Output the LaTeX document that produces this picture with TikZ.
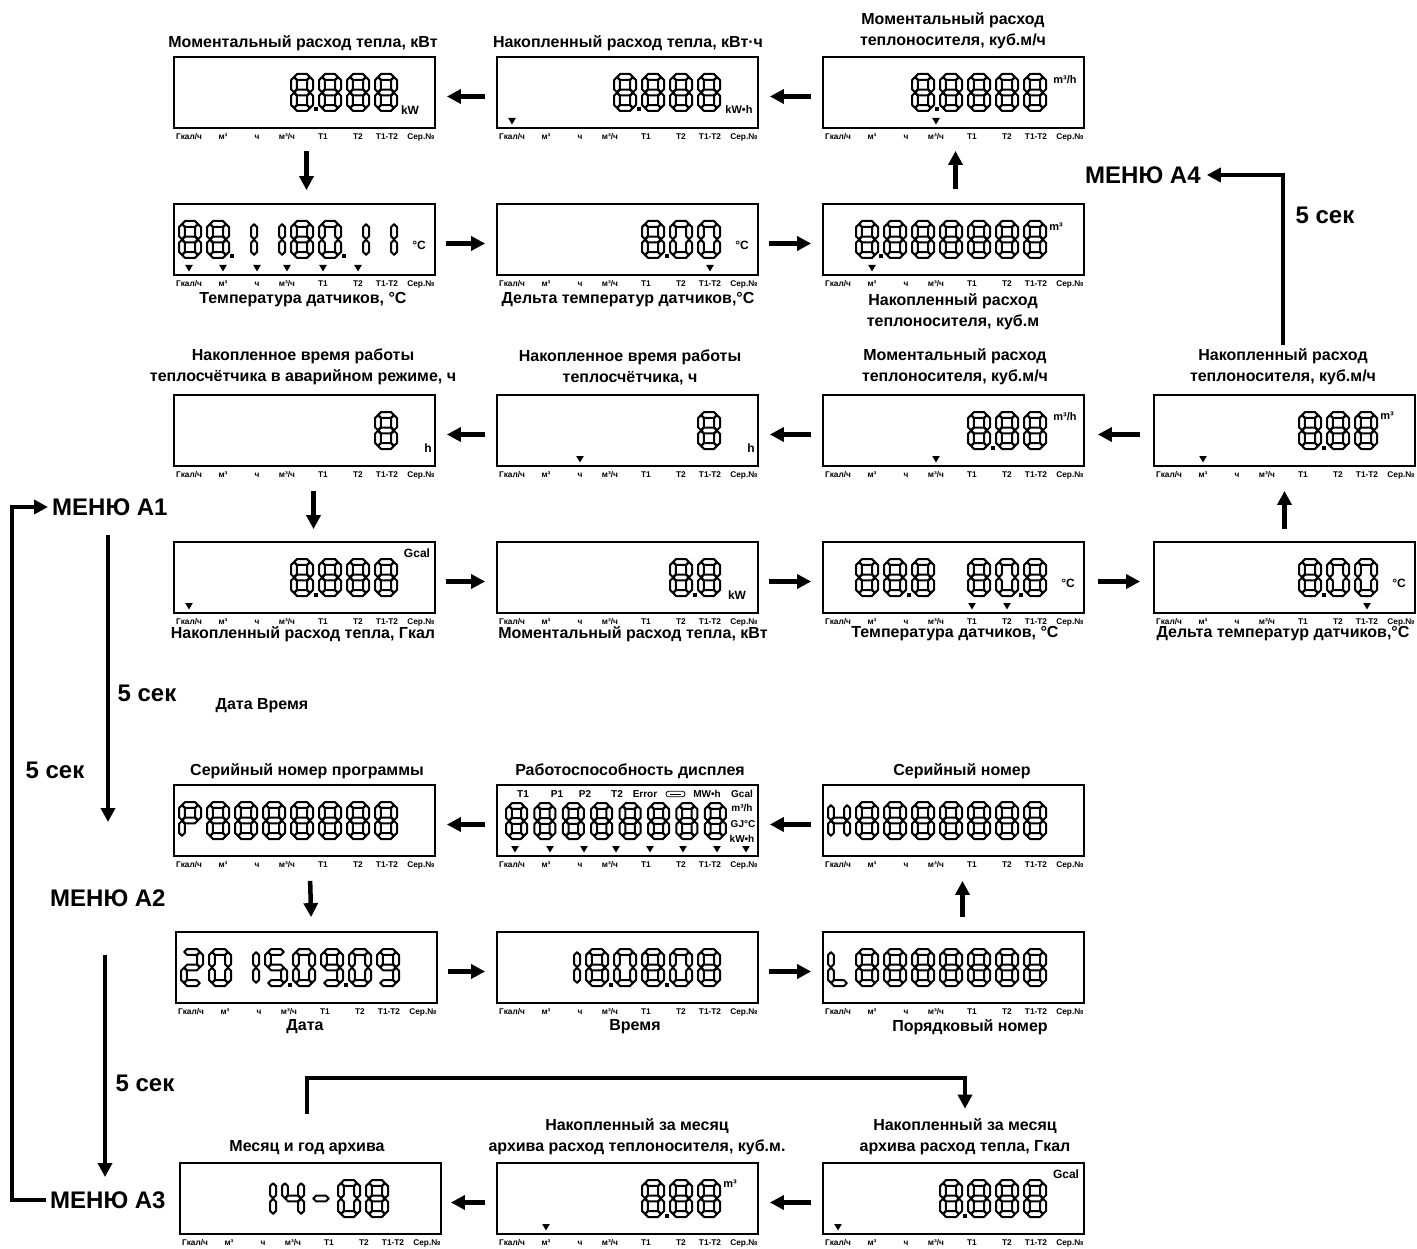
\documentclass[tikz,border=0pt]{standalone}
\usepackage{fontspec}
\setmainfont{Liberation Sans}
\usetikzlibrary{arrows.meta}

\def\sgW{22}\def\sgH{37}\def\sgh{2.9}\def\sgg{0.3}\def\sgOff{5}\def\sgP{28}\def\sgTop{17}

\tikzset{
  segm/.style={draw, line width=2.0pt, line join=round},
  lcd/.style={draw, line width=1.8pt, minimum width=261pt, minimum height=71pt, inner sep=0pt},
  lbl/.style={font=\fontsize{8.3}{8}\selectfont\bfseries, inner sep=0pt},
  capt/.style={font=\fontsize{16}{21}\selectfont\bfseries, align=center, inner sep=1pt},
  unittxt/.style={font=\fontsize{12}{12}\selectfont\bfseries, inner sep=0pt},
  unitsm/.style={font=\fontsize{11}{11}\selectfont\bfseries, inner sep=0pt},
  unitxs/.style={font=\fontsize{10}{10}\selectfont\bfseries, inner sep=0pt},
  menutxt/.style={font=\fontsize{24}{24}\selectfont\bfseries, inner sep=0pt, anchor=west},
  sectxt/.style={font=\fontsize{24}{24}\selectfont\bfseries, inner sep=0pt},
  arr/.style={line width=4.5pt, -{Triangle[length=14pt,width=14pt]}},
}

\newcommand\sgHor[3]{\draw[segm] (#1+\sgg,#3) -- (#1+\sgg+\sgh,#3-\sgh) -- (#2-\sgg-\sgh,#3-\sgh) -- (#2-\sgg,#3) -- (#2-\sgg-\sgh,#3+\sgh) -- (#1+\sgg+\sgh,#3+\sgh) -- cycle;}
\newcommand\sgVer[3]{\draw[segm] (#1,#2+\sgg) -- (#1+\sgh,#2+\sgg+\sgh) -- (#1+\sgh,#3-\sgg-\sgh) -- (#1,#3-\sgg) -- (#1-\sgh,#3-\sgg-\sgh) -- (#1-\sgh,#2+\sgg+\sgh) -- cycle;}
\def\sgsega{\sgHor{\sgXl}{\sgXr}{\sgYt}}
\def\sgsegb{\sgVer{\sgXr}{\sgYt}{\sgYm}}
\def\sgsegc{\sgVer{\sgXr}{\sgYm}{\sgYb}}
\def\sgsegd{\sgHor{\sgXl}{\sgXr}{\sgYb}}
\def\sgsege{\sgVer{\sgXl}{\sgYm}{\sgYb}}
\def\sgsegf{\sgVer{\sgXl}{\sgYt}{\sgYm}}
\def\sgsegg{\sgHor{\sgXl}{\sgXr}{\sgYm}}
\expandafter\def\csname sgmap8\endcsname{a,b,c,d,e,f,g}
\expandafter\def\csname sgmap0\endcsname{a,b,c,d,e,f}
\expandafter\def\csname sgmap1\endcsname{b,c}
\expandafter\def\csname sgmap2\endcsname{a,b,g,e,d}
\expandafter\def\csname sgmap4\endcsname{f,g,b,c}
\expandafter\def\csname sgmap5\endcsname{a,f,g,c,d}
\expandafter\def\csname sgmap9\endcsname{a,b,c,d,f,g}
\expandafter\def\csname sgmap-\endcsname{g}
\expandafter\def\csname sgmapP\endcsname{a,b,e,f,g}
\expandafter\def\csname sgmapH\endcsname{b,c,e,f,g}
\expandafter\def\csname sgmapL\endcsname{d,e,f}

\newcommand\sgDigit[4]{%
  \pgfmathsetmacro\sgX{#1+\sgOff+#3*\sgP}%
  \pgfmathsetmacro\sgY{#2+\sgTop}%
  \pgfmathsetmacro\sgXl{\sgX+\sgh}%
  \pgfmathsetmacro\sgXr{\sgX+\sgW-\sgh}%
  \pgfmathsetmacro\sgYt{\sgY+\sgh}%
  \pgfmathsetmacro\sgYm{\sgY+\sgH/2}%
  \pgfmathsetmacro\sgYb{\sgY+\sgH-\sgh}%
  \edef\sgList{\csname sgmap#4\endcsname}%
  \foreach \sgs in \sgList {\csname sgseg\sgs\endcsname}%
}
\newcommand\sgRow[3]{\foreach \sgp/\sgc in {#3} {\sgDigit{#1}{#2}{\sgp}{\sgc}}}
\newcommand\sgDot[3]{%
  \pgfmathsetmacro\sgDx{#1+\sgOff+#3*\sgP+\sgW+1.0}%
  \pgfmathsetmacro\sgDy{#2+\sgTop+\sgH+0.5}%
  \fill (\sgDx,\sgDy) rectangle (\sgDx+4,\sgDy-4);}
\newcommand\sgTri[3]{\fill (#1+#3-3.8,#2+61) -- (#1+#3+3.8,#2+61) -- (#1+#3,#2+67.5) -- cycle;}
\newcommand\sgBox[3]{%
  \node[lcd] (#1) at (#2+130.5,#3+35.5) {};
  \node[lbl] (#1l0) at (#2+15,#3+80) {Гкал/ч};
  \node[lbl] (#1l1) at (#2+49,#3+80) {м³};
  \node[lbl] (#1l2) at (#2+83,#3+80) {ч};
  \node[lbl] (#1l3) at (#2+113,#3+80) {м³/ч};
  \node[lbl] (#1l4) at (#2+149,#3+80) {T1};
  \node[lbl] (#1l5) at (#2+184,#3+80) {T2};
  \node[lbl] (#1l6) at (#2+213,#3+80) {T1-T2};
  \node[lbl] (#1l7) at (#2+247,#3+80) {Сер.№};
}

\begin{document}
\begin{tikzpicture}[x=1pt,y=-1pt]
\useasboundingbox (0,0) rectangle (1417,1249);

% ---------- Row 1 ----------
\sgBox{r1c1}{174}{57}
\sgRow{174}{57}{4/8,5/8,6/8,7/8}\sgDot{174}{57}{4}
\node[unittxt] (r1c1u) at (174+236,57+53) {kW};
\node[capt] (c11) at (303,43) {Моментальный расход тепла, кВт};

\sgBox{r1c2}{497}{57}
\sgRow{497}{57}{4/8,5/8,6/8,7/8}\sgDot{497}{57}{4}
\node[unitsm] (r1c2u) at (497+242,57+53) {kW•h};
\sgTri{497}{57}{15}
\node[capt] (c12) at (628,43) {Накопленный расход тепла, кВт·ч};

\sgBox{r1c3}{823}{57}
\sgRow{823}{57}{3/8,4/8,5/8,6/8,7/8}\sgDot{823}{57}{3}
\node[unitsm] (r1c3u) at (823+242,57+23) {m³/h};
\sgTri{823}{57}{113}
\node[capt] (c13) at (953,31) {Моментальный расход\\теплоносителя, куб.м/ч};

% ---------- Row 2 ----------
\sgBox{r2c1}{174}{204}
\sgRow{174}{204}{0/8,1/8,2/1,3/1,4/8,5/0,6/1,7/1}\sgDot{174}{204}{1}\sgDot{174}{204}{5}
\node[unittxt] (r2c1u) at (174+245,204+41) {°C};
\foreach \tx in {15,49,83,113,149,184} {\sgTri{174}{204}{\tx}}
\node[capt] (c21) at (303,300) {Температура датчиков, °С};

\sgBox{r2c2}{497}{204}
\sgRow{497}{204}{5/8,6/0,7/0}\sgDot{497}{204}{5}
\node[unittxt] (r2c2u) at (497+245,204+41) {°C};
\sgTri{497}{204}{213}
\node[capt] (c22) at (628,300) {Дельта температур датчиков,°С};

\sgBox{r2c3}{823}{204}
\sgRow{823}{204}{1/8,2/8,3/8,4/8,5/8,6/8,7/8}\sgDot{823}{204}{1}
\node[unitsm] (r2c3u) at (823+233,204+23) {m³};
\sgTri{823}{204}{49}
\node[capt] (c23) at (953,312) {Накопленный расход\\теплоносителя, куб.м};

% ---------- Row 3 ----------
\sgBox{r3c1}{174}{395}
\sgRow{174}{395}{7/8}
\node[unittxt] (r3c1u) at (174+254,395+53) {h};
\node[capt] (c31) at (303,367) {Накопленное время работы\\теплосчётчика в аварийном режиме, ч};

\sgBox{r3c2}{497}{395}
\sgRow{497}{395}{7/8}
\node[unittxt] (r3c2u) at (497+254,395+53) {h};
\sgTri{497}{395}{83}
\node[capt] (c32) at (630,367) {Накопленное время работы\\теплосчётчика, ч};

\sgBox{r3c3}{823}{395}
\sgRow{823}{395}{5/8,6/8,7/8}\sgDot{823}{395}{5}
\node[unitsm] (r3c3u) at (823+242,395+22) {m³/h};
\sgTri{823}{395}{113}
\node[capt] (c33) at (955,367) {Моментальный расход\\теплоносителя, куб.м/ч};

\sgBox{r3c4}{1154}{395}
\sgRow{1154}{395}{5/8,6/8,7/8}\sgDot{1154}{395}{5}
\node[unitsm] (r3c4u) at (1154+233,395+21) {m³};
\sgTri{1154}{395}{49}
\node[capt] (c34) at (1283,367) {Накопленный расход\\теплоносителя, куб.м/ч};

% ---------- Row 4 ----------
\sgBox{r4c1}{174}{542}
\sgRow{174}{542}{4/8,5/8,6/8,7/8}\sgDot{174}{542}{4}
\node[unittxt] (r4c1u) at (174+243,542+11) {Gcal};
\sgTri{174}{542}{15}
\node[capt] (c41) at (303,634) {Накопленный расход тепла, Гкал};

\sgBox{r4c2}{497}{542}
\sgRow{497}{542}{6/8,7/8}\sgDot{497}{542}{6}
\node[unittxt] (r4c2u) at (497+240,542+53) {kW};
\node[capt] (c42) at (633,634) {Моментальный расход тепла, кВт};

\sgBox{r4c3}{823}{542}
\sgRow{823}{542}{1/8,2/8,3/8,5/8,6/0,7/8}\sgDot{823}{542}{2}\sgDot{823}{542}{6}
\node[unittxt] (r4c3u) at (823+245,542+41) {°C};
\sgTri{823}{542}{149}\sgTri{823}{542}{184}
\node[capt] (c43) at (955,634) {Температура датчиков, °С};

\sgBox{r4c4}{1154}{542}
\sgRow{1154}{542}{5/8,6/0,7/0}\sgDot{1154}{542}{5}
\node[unittxt] (r4c4u) at (1154+245,542+41) {°C};
\sgTri{1154}{542}{213}
\node[capt] (c44) at (1283,634) {Дельта температур датчиков,°С};

\node[capt] (dt) at (262,706) {Дата Время};

% ---------- Row 5 ----------
\sgBox{r5c1}{174}{785}
\sgRow{174}{785}{0/P,1/8,2/8,3/8,4/8,5/8,6/8,7/8}
\node[capt] (c51) at (307,771) {Серийный номер программы};

\sgBox{r5c2}{497}{785}
\begin{scope}
\def\sgOff{9}\def\sgP{28.4}\def\sgTop{18}\def\sgW{21}\def\sgH{36}
\sgRow{497}{785}{0/8,1/8,2/8,3/8,4/8,5/8,6/8,7/8}
\end{scope}
\foreach \tx in {18,53,87,119,153,186,220,249} {\fill (497+\tx-3.8,785+61) -- (497+\tx+3.8,785+61) -- (497+\tx,785+67.5) -- cycle;}
\node[unitxs] (r5t1) at (497+26,785+9) {T1};
\node[unitxs] (r5t2) at (497+60,785+9) {P1};
\node[unitxs] (r5t3) at (497+88,785+9) {P2};
\node[unitxs] (r5t4) at (497+120,785+9) {T2};
\node[unitxs] (r5t5) at (497+148,785+9) {Error};
\draw[line width=0.8pt, rounded corners=2.5pt] (497+169,785+6.3) rectangle (497+188,785+11.7);
\draw[line width=0.8pt] (497+173,785+9) -- (497+184,785+9);
\node[unitxs] (r5t6) at (497+210,785+9) {MW•h};
\node[unitxs] (r5t7) at (497+245,785+9) {Gcal};
\node[unitxs] (r5t8) at (497+245,785+23) {m³/h};
\node[unitxs] (r5t9) at (497+246,785+39) {GJ°C};
\node[unitxs] (r5t10) at (497+245,785+54) {kW•h};
\node[capt] (c52) at (630,771) {Работоспособность дисплея};

\sgBox{r5c3}{823}{785}
\sgRow{823}{785}{0/H,1/8,2/8,3/8,4/8,5/8,6/8,7/8}
\node[capt] (c53) at (962,771) {Серийный номер};

% ---------- Row 6 ----------
\sgBox{r6c1}{176}{932}
\sgRow{176}{932}{0/2,1/0,2/1,3/5,4/0,5/9,6/0,7/9}\sgDot{176}{932}{3}\sgDot{176}{932}{5}
\node[capt] (c61) at (305,1027) {Дата};

\sgBox{r6c2}{497}{932}
\sgRow{497}{932}{2/1,3/8,4/0,5/8,6/0,7/8}\sgDot{497}{932}{3}\sgDot{497}{932}{5}
\node[capt] (c62) at (635,1027) {Время};

\sgBox{r6c3}{823}{932}
\sgRow{823}{932}{0/L,1/8,2/8,3/8,4/8,5/8,6/8,7/8}
\node[capt] (c63) at (970,1027) {Порядковый номер};

% ---------- Row 7 ----------
\sgBox{r7c1}{180}{1163}
\sgRow{165}{1163}{3/1,4/4,5/-,6/0,7/8}
\node[capt] (c71) at (307,1148) {Месяц и год архива};

\sgBox{r7c2}{497}{1163}
\sgRow{497}{1163}{5/8,6/8,7/8}\sgDot{497}{1163}{5}
\node[unitsm] (r7c2u) at (497+233,1163+21) {m³};
\sgTri{497}{1163}{49}
\node[capt] (c72) at (637,1137) {Накопленный за месяц\\архива расход теплоносителя, куб.м.};

\sgBox{r7c3}{823}{1163}
\sgRow{823}{1163}{4/8,5/8,6/8,7/8}\sgDot{823}{1163}{4}
\node[unittxt] (r7c3u) at (823+243,1163+11) {Gcal};
\sgTri{823}{1163}{15}
\node[capt] (c73) at (965,1137) {Накопленный за месяц\\архива расход тепла, Гкал};

% ---------- Menus ----------
\node[menutxt] (m1) at (52,507) {МЕНЮ А1};
\node[menutxt] (m2) at (50,898) {МЕНЮ А2};
\node[menutxt] (m3) at (50,1200) {МЕНЮ А3};
\node[menutxt] (m4) at (1085,175) {МЕНЮ А4};
\node[sectxt] (s1) at (147,693) {5 сек};
\node[sectxt] (s2) at (55,770) {5 сек};
\node[sectxt] (s3) at (145,1083) {5 сек};
\node[sectxt] (s4) at (1325,215) {5 сек};

\coordinate (a1t) at (108,535);
\coordinate (a1b) at (108,822);
\coordinate (a2t) at (105,955);
\coordinate (a2b) at (105,1177);
\coordinate (brk) at (965,1078);

% ---------- Connectors ----------
\begin{scope}[every path/.style={arr}]
\draw[shorten <=11pt, shorten >=11pt] ([yshift=-4pt]r1c2.west) -- ([yshift=-4pt]r1c1.east);
\draw[shorten <=11pt, shorten >=11pt] ([yshift=-4pt]r1c3.west) -- ([yshift=-4pt]r1c2.east);
\draw[shorten <=22pt, shorten >=13pt] ([xshift=2pt]r1c1.south) -- ([xshift=2pt]r2c1.north);
\draw[shorten <=10pt, shorten >=11pt] ([yshift=-4pt]r2c1.east) -- ([yshift=-4pt]r2c2.west);
\draw[shorten <=10pt, shorten >=11pt] ([yshift=-4pt]r2c2.east) -- ([yshift=-4pt]r2c3.west);
\draw[shorten <=14pt, shorten >=22pt] ([xshift=2pt]r2c3.north) -- ([xshift=2pt]r1c3.south);

\draw[shorten <=13pt, shorten >=13pt] ([yshift=-4pt]r3c4.west) -- ([yshift=-4pt]r3c3.east);
\draw[shorten <=11pt, shorten >=11pt] ([yshift=-4pt]r3c3.west) -- ([yshift=-4pt]r3c2.east);
\draw[shorten <=11pt, shorten >=11pt] ([yshift=-4pt]r3c2.west) -- ([yshift=-4pt]r3c1.east);
\draw[shorten <=24pt, shorten >=12pt] ([xshift=9pt]r3c1.south) -- ([xshift=9pt]r4c1.north);
\draw[shorten <=10pt, shorten >=11pt] ([yshift=-4pt]r4c1.east) -- ([yshift=-4pt]r4c2.west);
\draw[shorten <=10pt, shorten >=11pt] ([yshift=-4pt]r4c2.east) -- ([yshift=-4pt]r4c3.west);
\draw[shorten <=13pt, shorten >=13pt] ([yshift=-4pt]r4c3.east) -- ([yshift=-4pt]r4c4.west);
\draw[shorten <=12pt, shorten >=24pt] (r4c4.north) -- (r3c4.south);
\draw[shorten <=3pt, shorten >=6pt] (c34.north) |- (m4.east);

\draw[shorten <=11pt, shorten >=11pt] ([yshift=-4pt]r5c3.west) -- ([yshift=-4pt]r5c2.east);
\draw[shorten <=11pt, shorten >=11pt] ([yshift=-4pt]r5c2.west) -- ([yshift=-4pt]r5c1.east);
\draw[shorten <=24pt, shorten >=14pt] ([xshift=5pt]r5c1.south) -- ([xshift=5pt]r6c1.north);
\draw[shorten <=10pt, shorten >=11pt] ([yshift=-4pt]r6c1.east) -- ([yshift=-4pt]r6c2.west);
\draw[shorten <=10pt, shorten >=11pt] ([yshift=-4pt]r6c2.east) -- ([yshift=-4pt]r6c3.west);
\draw[shorten <=14pt, shorten >=24pt] ([xshift=9pt]r6c3.north) -- ([xshift=9pt]r5c3.south);

\draw[shorten <=26pt, shorten >=9pt] (c71.north) |- (brk) -- (brk |- c73.north);
\draw[shorten <=11pt, shorten >=11pt] ([yshift=-4pt]r7c3.west) -- ([yshift=-4pt]r7c2.east);
\draw[shorten <=11pt, shorten >=9pt] ([yshift=-4pt]r7c2.west) -- ([yshift=-4pt]r7c1.east);

\draw (a1t) -- (a1b);
\draw (a2t) -- (a2b);
\draw[shorten <=4pt, shorten >=4pt] (m3.west) -- ++(-38,0) |- (m1.west);
\end{scope}
\end{tikzpicture}
\end{document}
